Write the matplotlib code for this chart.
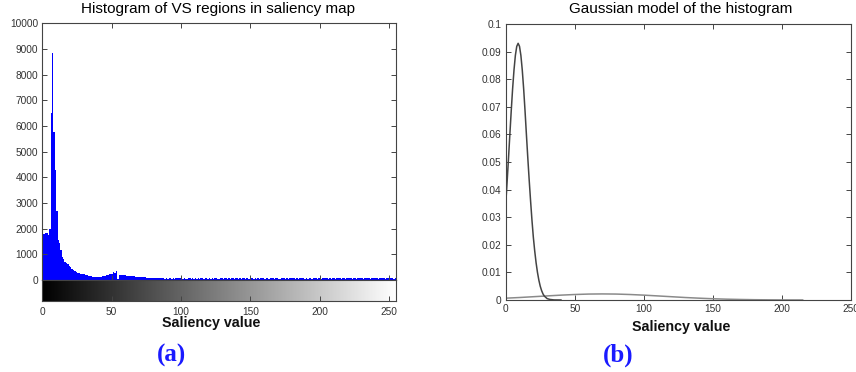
import matplotlib
matplotlib.use("Agg")
import matplotlib.pyplot as plt
import numpy as np

# ---- data ----
hist_head = [1800, 1790, 1830, 1850, 1740, 2000, 6500, 8850, 5750, 4300,
             2700, 1550, 1450, 1150, 900, 800, 720, 680, 620, 560,
             500, 430, 380, 340, 300, 280, 260, 250, 240, 230,
             220, 200, 180, 160, 150, 140, 130, 130, 125, 120,
             120, 125, 130, 140, 150, 170, 190, 210, 230, 220,
             250, 300, 280, 360, 40, 200, 190, 190, 180, 180,
             170, 160, 160, 150, 150, 140, 140, 130, 130, 120,
             120, 110, 110, 100, 100, 95, 90, 90, 85, 85,
             80, 80, 75, 70, 60]
hist_tail = [65, 60, 62, 58, 60, 55, 63, 60, 58, 62, 57, 60, 64, 59, 61,
             60, 55, 62, 58, 45, 60, 63, 57, 60, 50, 62, 58, 60, 55, 61, 59, 48, 60, 62, 57,
             60, 58, 63, 55, 60, 62, 50, 58, 61, 60, 57, 62, 59, 45, 60, 58, 63, 60, 56, 61,
             60, 58, 62, 55, 60, 63, 57, 60, 58, 50, 62, 60, 58, 61, 57, 60, 55, 62, 59, 60,
             58, 61, 60, 56, 62, 59, 60, 57, 63, 60, 58, 55, 61, 60, 62, 58, 60, 57, 61, 59,
             60, 62, 58, 60, 55, 61, 59, 60, 63, 57, 60, 58, 62, 60, 45, 61, 59, 60, 58, 62,
             60, 57, 61, 59, 60, 62, 58, 60, 35, 61, 60, 58, 62, 59, 60, 57, 61, 60, 58, 62,
             59, 60, 61, 58, 60, 62, 57, 60, 59, 61, 60, 58, 62, 60, 59, 61, 58, 60, 62, 59,
             60, 61, 58, 60, 62, 59, 60, 58, 61, 60, 62, 59, 60, 58, 61, 60]
hist_counts = hist_head + hist_tail
hist_bins = list(range(len(hist_counts)))

g1_x = [0, 1, 2, 3, 4, 5, 6, 7, 8, 9, 10, 11, 12, 13, 14, 15, 16, 17, 18, 19,
        20, 21, 22, 23, 24, 25, 26, 27, 28, 30, 32, 35, 40]
g1_y = [0.0346, 0.0426, 0.0511, 0.0599, 0.0685, 0.0765, 0.0833, 0.0886, 0.0919, 0.0930,
        0.0919, 0.0886, 0.0833, 0.0765, 0.0685, 0.0599, 0.0515, 0.0435, 0.0360, 0.0290,
        0.0228, 0.0178, 0.0135, 0.0100, 0.0072, 0.0050, 0.0034, 0.0022, 0.0014, 0.0005,
        0.0002, 0.00003, 0.0]
g2_x = [0, 10, 20, 30, 40, 50, 60, 70, 80, 90, 100, 110, 120, 130, 140, 150,
        160, 170, 180, 190, 200, 215]
g2_y = [0.00066, 0.00090, 0.00119, 0.00148, 0.00176, 0.00199, 0.00215, 0.00220,
        0.00215, 0.00199, 0.00176, 0.00148, 0.00119, 0.00090, 0.00066, 0.00045,
        0.00030, 0.00019, 0.00011, 0.00006, 0.00003, 0.00001]

hist_yticks = [0, 1000, 2000, 3000, 4000, 5000, 6000, 7000, 8000, 9000, 10000]
x_ticks = [0, 50, 100, 150, 200, 250]
gauss_yticks = [0, 0.01, 0.02, 0.03, 0.04, 0.05, 0.06, 0.07, 0.08, 0.09, 0.1]
gauss_yticklabels = ["0", "0.01", "0.02", "0.03", "0.04", "0.05", "0.06", "0.07", "0.08", "0.09", "0.1"]

plt.rcParams['font.family'] = ['Liberation Sans', 'DejaVu Sans']
W, H = 856, 372
fig = plt.figure(figsize=(W / 100, H / 100), dpi=100)

def fx(px):
    return px / W

def fy(py):
    return 1 - py / H

tick_col = '#333333'
spine_col = '#444444'

def style(ax):
    for s in ax.spines.values():
        s.set_color(spine_col)
        s.set_linewidth(0.8)
    ax.tick_params(direction='in', length=3.5, width=0.7, colors=spine_col,
                   labelcolor=tick_col, labelsize=7.3, top=True, right=True, pad=3)

# ---- left: histogram ----
L0, L1 = 42.3, 396.0
ax1 = fig.add_axes([fx(L0), fy(280), fx(L1 - L0), fy(23.3) - fy(280)])
ax1.bar(hist_bins, hist_counts, width=1.0, align='edge', color='#0000ff', linewidth=0)
ax1.set_xlim(0, 255)
ax1.set_ylim(0, 10000)
ax1.set_yticks(hist_yticks)
ax1.set_yticklabels([str(v) for v in hist_yticks])
ax1.set_xticks(x_ticks)
ax1.set_xticklabels([])
style(ax1)

axc = fig.add_axes([fx(L0), fy(301), fx(L1 - L0), fy(280) - fy(301)])
grad = np.linspace(0, 1, 256).reshape(1, -1)
axc.imshow(grad, cmap='gray', aspect='auto', extent=[0, 255, 0, 1])
axc.set_xlim(0, 255)
axc.set_ylim(0, 1)
axc.set_xticks(x_ticks)
axc.set_xticklabels([str(v) for v in x_ticks])
axc.set_yticks([])
style(axc)
axc.tick_params(top=False, right=False, pad=4)

fig.text(fx(217.5), fy(9.5), "Histogram of VS regions in saliency map", ha='center', va='center',
         fontsize=11, color='#000000')
fig.text(fx(210.7), fy(323), "Saliency value", ha='center', va='center',
         fontsize=10.3, fontweight='bold', color='#111111')
fig.text(fx(172), fy(355), "(a)", ha='center', va='center', fontsize=18,
         fontweight='bold', color='#1a1aff', family='Liberation Serif')

# ---- right: Gaussian model ----
R0, R1 = 505.7, 851.0
ax2 = fig.add_axes([fx(R0), fy(300), fx(R1 - R0), fy(24) - fy(300)])
ax2.plot(g2_x, g2_y, color='#8a8a8a', linewidth=1.1)
ax2.plot(g1_x, g1_y, color='#444444', linewidth=1.1)
ax2.set_xlim(0, 250)
ax2.set_ylim(0, 0.1)
ax2.set_yticks(gauss_yticks)
ax2.set_yticklabels(gauss_yticklabels)
ax2.set_xticks(x_ticks)
ax2.set_xticklabels([str(v) for v in x_ticks])
style(ax2)

fig.text(fx(681), fy(9.5), "Gaussian model of the histogram", ha='center', va='center',
         fontsize=11, color='#000000')
fig.text(fx(680.7), fy(326.7), "Saliency value", ha='center', va='center',
         fontsize=10.3, fontweight='bold', color='#111111')
fig.text(fx(618), fy(355), "(b)", ha='center', va='center', fontsize=18,
         fontweight='bold', color='#1a1aff', family='Liberation Serif')

fig.savefig("out.png", dpi=100)
